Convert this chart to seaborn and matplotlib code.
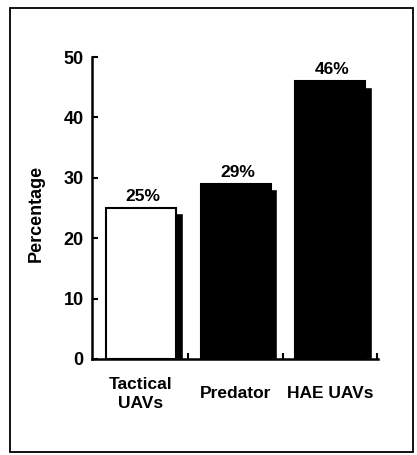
# UAV share bar chart with drop shadows

import numpy as np
import matplotlib
matplotlib.use("Agg")
import matplotlib.pyplot as plt
import seaborn as sns
from matplotlib.patches import Rectangle

categories = ["Tactical\nUAVs", "Predator", "HAE UAVs"]
values = [25, 29, 46]
value_labels = ["25%", "29%", "46%"]
bar_colors = ["white", "black", "black"]
y_ticks = [0, 10, 20, 30, 40, 50]

sns.set_style("white")
plt.rcParams["font.family"] = ["Liberation Sans", "DejaVu Sans"]
plt.rcParams["font.weight"] = "bold"
plt.rcParams["text.color"] = "black"
plt.rcParams["axes.labelcolor"] = "black"
plt.rcParams["xtick.color"] = "black"
plt.rcParams["ytick.color"] = "black"

fig = plt.figure(figsize=(4.17, 4.55), dpi=100)
ax = fig.add_axes([0.2206, 0.2110, 0.686, 0.6637])

# the shadow behind every bar, a bit right and a bit lower
pos = np.arange(len(values))
ax.bar(pos + 0.07, np.array(values) - 0.9, width=0.74, color="black", zorder=1)

# main bars
sns.barplot(x=categories, y=values, hue=categories, palette=bar_colors,
            legend=False, width=0.74, edgecolor="black", linewidth=1.5,
            saturation=1, ax=ax, zorder=2)

for i, (v, lab) in enumerate(zip(values, value_labels)):
    ax.text(i + 0.02, v + 0.7, lab, ha="center", va="bottom",
            fontsize=12.5, fontweight="bold")

ax.set_xlim(-0.519, 2.508)
ax.set_ylim(0, 50)
ax.set_yticks(y_ticks)
ax.set_yticklabels([str(t) for t in y_ticks], fontsize=13, fontweight="bold")
ax.set_xticks(pos)
ax.set_xticklabels(categories, fontsize=12.5, fontweight="bold",
                   va="center", linespacing=1.35)
ax.get_xticklabels()[0].set_x(-0.08)
ax.set_xticks([0.5, 1.5, 2.5], minor=True)
ax.tick_params(axis="x", which="major", length=0, pad=25)
ax.tick_params(axis="x", which="minor", direction="in", length=4,
               width=1.5, bottom=True)
ax.tick_params(axis="y", direction="in", length=4, width=1.5,
               left=True, pad=6)

ax.set_xlabel("")
ax.set_ylabel("Percentage", fontsize=13, fontweight="bold")
ax.yaxis.set_label_coords(-0.165, 0.483)

for side in ["top", "right"]:
    ax.spines[side].set_visible(False)
for side in ["left", "bottom"]:
    ax.spines[side].set_color("black")
    ax.spines[side].set_linewidth(1.8)

# frame round the whole figure
fig.patches.append(Rectangle((0.024, 0.007), 0.966, 0.975, transform=fig.transFigure,
                             fill=False, edgecolor="black", linewidth=1.3))

fig.savefig("out.png", dpi=100, facecolor="white")
